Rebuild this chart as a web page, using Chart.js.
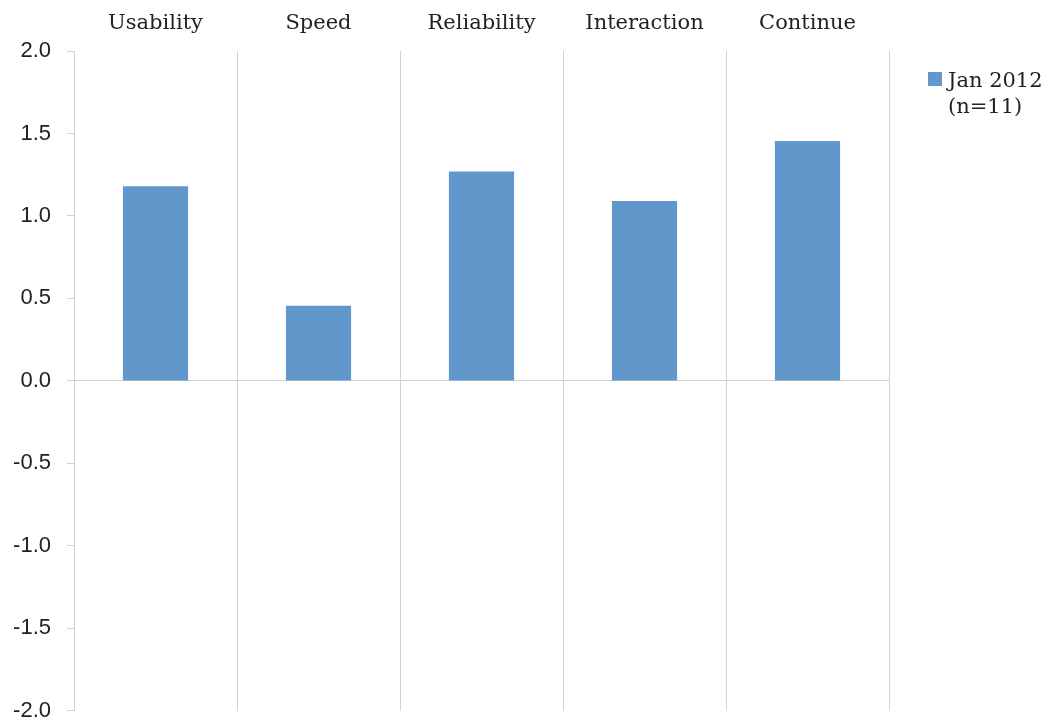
<!DOCTYPE html>
<html>
<head>
<meta charset="utf-8">
<script src="https://cdn.jsdelivr.net/npm/chart.js@4/dist/chart.umd.min.js"></script>
<style>
  html, body { margin: 0; padding: 0; background: #fff; overflow: hidden; }
  #wrap { position: relative; width: 1050px; height: 723px; overflow: hidden; }
  #legend { position: absolute; left: 928px; top: 67px; font-family: "DejaVu Serif", serif; font-size: 21px; line-height: 26px; color: #222; }
  #legend .sw { position: absolute; left: 0; top: 5px; width: 14px; height: 14px; background: #6197cb; }
  #legend .tx { position: absolute; left: 20px; top: 0; white-space: nowrap; }
</style>
</head>
<body>
<div id="wrap">
  <canvas id="c" width="1050" height="740"></canvas>
  <div id="legend"><div class="sw"></div><div class="tx" id="legtext"></div></div>
</div>
<script>
const categories = ["Usability", "Speed", "Reliability", "Interaction", "Continue"];
const seriesName = ["Jan 2012", "(n=11)"];
const jan2012 = [1.18, 0.455, 1.27, 1.09, 1.455];
const yTicks = [-2.0, -1.5, -1.0, -0.5, 0.0, 0.5, 1.0, 1.5, 2.0];

document.getElementById('legtext').innerHTML = seriesName.join('<br>');

const gridGray = '#d2d2d2';
new Chart(document.getElementById('c'), {
  type: 'bar',
  data: {
    labels: categories,
    datasets: [{
      label: seriesName.join(' '),
      data: jan2012,
      backgroundColor: '#6197cb',
      borderWidth: 0,
      barPercentage: 0.4,
      categoryPercentage: 1.0
    }]
  },
  options: {
    responsive: false,
    animation: false,
    layout: { padding: { left: 0, right: 161, top: 0, bottom: 0 } },
    plugins: { legend: { display: false }, tooltip: { enabled: false } },
    scales: {
      x: {
        position: 'top',
        offset: true,
        grid: { offset: true, color: gridGray, lineWidth: 1, drawTicks: false },
        border: { display: false },
        ticks: { font: { family: 'DejaVu Serif', size: 21 }, color: '#222', padding: 15, maxRotation: 0 },
        afterFit: s => { s.height = 51; }
      },
      y: {
        min: -2, max: 2,
        afterBuildTicks: s => { s.ticks = yTicks.map(v => ({ value: v })); },
        grid: {
          color: c => (c.tick && c.tick.value === 0) ? gridGray : 'rgba(0,0,0,0)',
          tickColor: gridGray,
          tickLength: 7,
          lineWidth: 1
        },
        border: { display: false },
        ticks: {
          font: { family: 'Liberation Sans', size: 22 },
          color: '#222',
          padding: 16,
          callback: v => Number(v).toFixed(1)
        },
        afterFit: s => { s.width = 74; }
      }
    }
  }
});
</script>
</body>
</html>
